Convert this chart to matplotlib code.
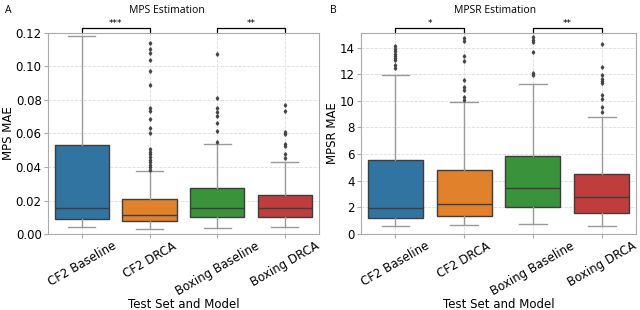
import numpy as np
import matplotlib
matplotlib.use('Agg')
import matplotlib.pyplot as plt

# categorias y colores (paleta seaborn desaturada)
grupos = ['CF2 Baseline', 'CF2 DRCA', 'Boxing Baseline', 'Boxing DRCA']
colores = ['#3274A1', '#E1812C', '#3A923A', '#C03D3E']

# MPS MAE: cuartiles, bigotes y atipicos
mps_q1 = [0.0089, 0.0079, 0.0099, 0.0099]
mps_med = [0.0154, 0.0111, 0.0158, 0.0153]
mps_q3 = [0.0529, 0.0208, 0.0277, 0.0234]
mps_lo = [0.0042, 0.0032, 0.0036, 0.0040]
mps_hi = [0.118, 0.0378, 0.0536, 0.0429]
mps_out = [
    [],
    [0.1137, 0.1105, 0.108, 0.1036, 0.097, 0.0887, 0.0754, 0.0732, 0.0685, 0.0634,
     0.060, 0.0507, 0.049, 0.0475, 0.046, 0.0444, 0.0428, 0.0412, 0.0398, 0.0385],
    [0.1075, 0.0814, 0.0752, 0.0729, 0.0705, 0.0665, 0.0614, 0.0551],
    [0.0772, 0.0732, 0.061, 0.0594, 0.054, 0.0527, 0.0477, 0.0451],
]

# MPSR MAE
mpsr_q1 = [1.19, 1.39, 2.03, 1.61]
mpsr_med = [1.94, 2.28, 3.43, 2.80]
mpsr_q3 = [5.53, 4.82, 5.86, 4.52]
mpsr_lo = [0.60, 0.69, 0.74, 0.62]
mpsr_hi = [11.95, 9.93, 11.24, 8.76]
mpsr_out = [
    [14.15, 13.9, 13.72, 13.55, 13.4, 13.23, 13.05, 12.66, 12.46],
    [14.72, 14.52, 13.35, 12.98, 11.56, 11.0, 10.82, 10.25, 10.05],
    [14.8, 14.6, 14.4, 13.68, 12.06, 11.91],
    [14.3, 12.56, 11.91, 11.66, 11.49, 11.32, 10.42, 10.13, 9.5, 9.14],
]

# significancia (pares, texto)
sig_mps = [((0, 1), '***'), ((2, 3), '**')]
sig_mpsr = [((0, 1), '*'), ((2, 3), '**')]


def caja(ax, q1, med, q3, lo, hi, out, ylim, ylabel, sig):
    stats = []
    for i in range(len(grupos)):
        stats.append({'q1': q1[i], 'med': med[i], 'q3': q3[i], 'whislo': lo[i],
                      'whishi': hi[i], 'fliers': out[i], 'label': grupos[i]})
    b = ax.bxp(stats, positions=range(len(grupos)), widths=0.8, patch_artist=True,
               showfliers=True,
               boxprops=dict(edgecolor='#3d3d3d', linewidth=1.0),
               medianprops=dict(color='#3d3d3d', linewidth=1.0),
               whiskerprops=dict(color='#999999', linewidth=1.0),
               capprops=dict(color='#999999', linewidth=1.0),
               capwidths=0.4,
               flierprops=dict(marker='d', markersize=1.8, markerfacecolor='#444444',
                               markeredgecolor='#444444', linestyle='none'))
    for p, c in zip(b['boxes'], colores):
        p.set_facecolor(c)
        p.set_zorder(2)
    ax.set_xlim(-0.5, len(grupos) - 0.5)
    ax.set_ylim(*ylim)
    ax.grid(True, linestyle='--', color='#dddddd', linewidth=0.6, zorder=0)
    ax.set_axisbelow(True)
    for s in ax.spines.values():
        s.set_color('#aaaaaa')
    ax.tick_params(labelsize=8.5, colors='#aaaaaa', labelcolor='black', length=3)
    ax.tick_params(axis='x', pad=1)
    ax.tick_params(axis='y', pad=1.5)
    ax.set_xticks(range(len(grupos)))
    ax.set_xticklabels(grupos, rotation=30, ha='center')
    ax.set_ylabel(ylabel, fontsize=8.5, labelpad=0.5)
    ax.set_xlabel('Test Set and Model', fontsize=8.5, labelpad=0)
    top = ylim[1]
    for (a, c), txt in sig:
        h = (ylim[1] - ylim[0]) * 0.022
        ax.plot([a, a, c, c], [top, top + h, top + h, top], color='black',
                linewidth=0.9, clip_on=False)
        ax.text((a + c) / 2, top + h, txt, ha='center', va='bottom', fontsize=6.5)


fig = plt.figure(figsize=(6.4, 3.1), dpi=100)
axA = fig.add_axes([0.075, 0.245, 0.423, 0.649])
axB = fig.add_axes([0.564, 0.245, 0.430, 0.649])

caja(axA, mps_q1, mps_med, mps_q3, mps_lo, mps_hi, mps_out, (0, 0.12), 'MPS MAE', sig_mps)
axA.set_yticks([0, 0.02, 0.04, 0.06, 0.08, 0.10, 0.12])
axA.set_yticklabels(['0.00', '0.02', '0.04', '0.06', '0.08', '0.10', '0.12'])

caja(axB, mpsr_q1, mpsr_med, mpsr_q3, mpsr_lo, mpsr_hi, mpsr_out, (0, 15.1), 'MPSR MAE', sig_mpsr)
axB.set_yticks([0, 2, 4, 6, 8, 10, 12, 14])

fig.text(0.261, 0.985, 'MPS Estimation', ha='center', va='top', fontsize=7.5, family='Open Sans')
fig.text(0.773, 0.985, 'MPSR Estimation', ha='center', va='top', fontsize=7.5, family='Open Sans')
fig.text(0.008, 0.985, 'A', ha='left', va='top', fontsize=7.5, family='Open Sans')
fig.text(0.516, 0.985, 'B', ha='left', va='top', fontsize=7.5, family='Open Sans')

plt.savefig('out.png', dpi=100)
plt.close()
